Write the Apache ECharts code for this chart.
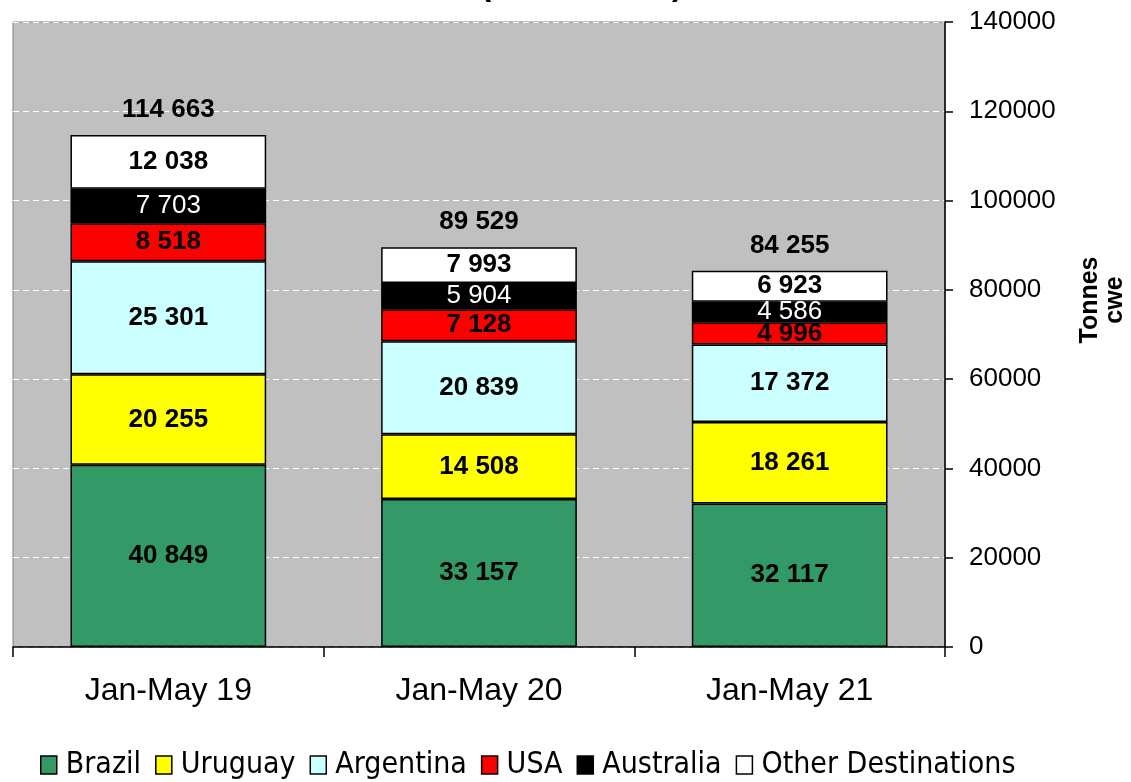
<!DOCTYPE html>
<html lang="en">
<head>
  <meta charset="UTF-8">
  <title>Exports by destination</title>
  <style>
    * { margin: 0; padding: 0; box-sizing: border-box; }
    body { background: #fff; }
    #chart { width: 1131px; height: 782px; }
  </style>
</head>
<body>
  <div id="chart"></div>
<script src="https://cdn.jsdelivr.net/npm/echarts@6/dist/echarts.min.js"></script>
<script>
  // categories and values
  const periods = ['Jan-May 19', 'Jan-May 20', 'Jan-May 21']
  const brazil = [40849, 33157, 32117]
  const uruguay = [20255, 14508, 18261]
  const argentina = [25301, 20839, 17372]
  const usa = [8518, 7128, 4996]
  const australia = [7703, 5904, 4586]
  const others = [12038, 7993, 6923]
  const totals = [114663, 89529, 84255]
  const yTicks = [0, 20000, 40000, 60000, 80000, 100000, 120000, 140000]

  // 40849 -> "40 849"
  const fmt = v => String(v).replace(/\B(?=(\d{3})+(?!\d))/g, ' ')

  const labelStyle = (color, weight) => ({
    show: true,
    position: 'inside',
    color: color,
    fontFamily: 'Liberation Sans, Arial',
    fontSize: 26,
    fontWeight: weight,
    formatter: p => fmt(p.value)
  })

  const seg = (name, data, color, labelColor, weight) => ({
    name: name,
    type: 'bar',
    stack: 'total',
    barWidth: '63%',
    data: data,
    itemStyle: { color: color, borderColor: '#000', borderWidth: 1.5 },
    label: labelStyle(labelColor, weight)
  })

  const chart = echarts.init(document.getElementById('chart'))
  chart.setOption({
    animation: false,
    graphic: [
      {
        // the title is mostly cut off at the top of the picture
        type: 'text', x: 490, y: 2,
        style: {
          text: 'Destination (Tonnes cwe)',
          align: 'center', verticalAlign: 'bottom',
          fill: '#000', font: 'bold 32px "Liberation Sans", Arial'
        }
      },
      {
        type: 'text', x: 1103, y: 300, rotation: Math.PI / 2,
        style: {
          text: 'Tonnes\ncwe', align: 'center', verticalAlign: 'middle',
          fill: '#000', font: 'bold 25px "Liberation Sans", Arial', lineHeight: 25
        }
      }
    ],
    grid: {
      left: 13, right: 186, top: 22, bottom: 135,
      show: true, backgroundColor: '#C0C0C0', borderColor: '#808080', borderWidth: 1
    },
    legend: {
      bottom: -3, left: 35,
      icon: 'rect', itemWidth: 16, itemHeight: 18, itemGap: 14,
      itemStyle: { borderColor: '#000', borderWidth: 1.5 },
      textStyle: { fontFamily: 'DejaVu Sans Condensed, Liberation Sans Narrow', fontSize: 30, color: '#000', padding: [0, 0, 0, 4] },
      data: ['Brazil', 'Uruguay', 'Argentina', 'USA', 'Australia', 'Other Destinations']
    },
    xAxis: {
      type: 'category',
      data: periods,
      axisLine: { lineStyle: { color: '#000', width: 1.5 } },
      axisTick: { show: true, length: 10, lineStyle: { color: '#000', width: 1.5 } },
      axisLabel: { color: '#000', fontSize: 32, fontFamily: 'Liberation Sans, Arial', margin: 28 }
    },
    yAxis: {
      type: 'value',
      position: 'right',
      min: yTicks[0], max: yTicks[yTicks.length - 1], interval: 20000,
      axisLine: { show: true, lineStyle: { color: '#000', width: 1.5 } },
      axisTick: { show: true, length: 8, lineStyle: { color: '#000', width: 1.5 } },
      axisLabel: { color: '#000', fontSize: 26, fontFamily: 'Liberation Sans, Arial', margin: 24, formatter: v => String(v) },
      splitLine: { lineStyle: { color: '#fff', type: [6, 4], width: 1 } }
    },
    series: [
      seg('Brazil', brazil, '#339966', '#000', 'bold'),
      seg('Uruguay', uruguay, '#FFFF00', '#000', 'bold'),
      seg('Argentina', argentina, '#CCFFFF', '#000', 'bold'),
      seg('USA', usa, '#FF0000', '#000', 'bold'),
      seg('Australia', australia, '#000000', '#fff', 'normal'),
      seg('Other Destinations', others, '#FFFFFF', '#000', 'bold'),
      {
        // zero-height series that only carries the total labels
        name: 'Total',
        type: 'bar',
        stack: 'total',
        barWidth: '63%',
        data: totals.map(() => 0),
        itemStyle: { color: 'transparent' },
        label: {
          show: true, position: 'top', distance: 12,
          color: '#000', fontSize: 26, fontWeight: 'bold', fontFamily: 'Liberation Sans, Arial',
          formatter: p => fmt(totals[p.dataIndex])
        },
        tooltip: { show: false }
      }
    ]
  })
</script>
</body>
</html>
